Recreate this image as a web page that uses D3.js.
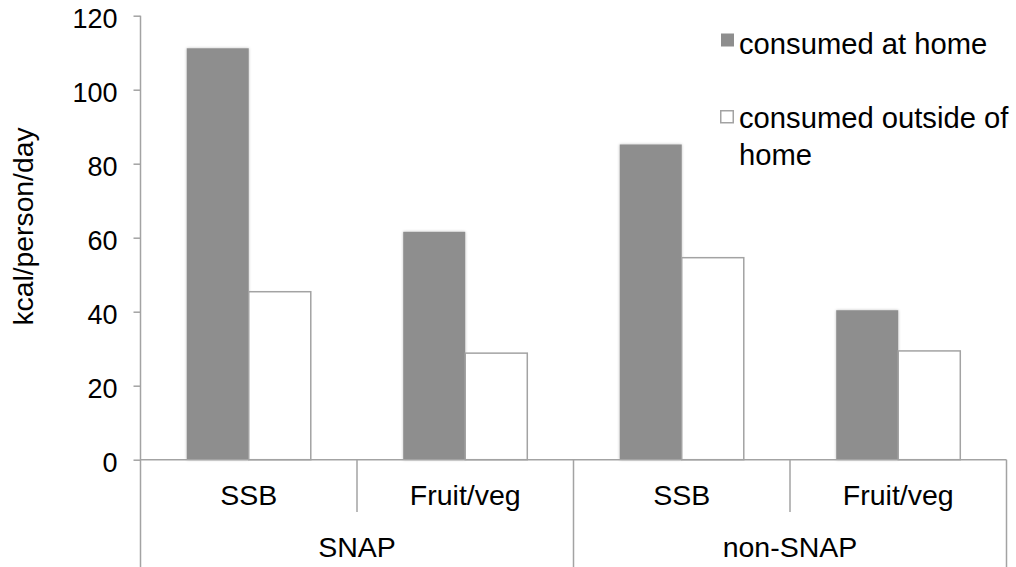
<!DOCTYPE html>
<html>
<head>
<meta charset="utf-8">
<script src="https://cdn.jsdelivr.net/npm/d3@7"></script>
<style>
  html, body { margin: 0; padding: 0; background: #fff; }
  svg text { font-family: "Liberation Sans", Arial, Helvetica, sans-serif; fill: #000; }
</style>
</head>
<body>
<svg id="chart" width="1016" height="567"></svg>
<script>
// Energy from sugar-sweetened beverages and fruit/vegetables, by SNAP participation
const groups = ["SNAP", "non-SNAP"];
const foods = ["SSB", "Fruit/veg"];
const categories = ["SNAP|SSB", "SNAP|Fruit/veg", "non-SNAP|SSB", "non-SNAP|Fruit/veg"];
const seriesNames = ["consumed at home", "consumed outside of home"];
const atHome = [111.2, 61.6, 85.2, 40.4];
const outsideHome = [45.4, 28.8, 54.6, 29.4];
const yTicks = [0, 20, 40, 60, 80, 100, 120];
const yLabel = "kcal/person/day";

const svg = d3.select("#chart");
const axisColor = "#a3a3a3";
const darkFill = "#8e8e8e";
const tickFont = 27;
const catFont = 28.5;
const titleFont = 28.3;
const legendFont = 29.2;

const plotLeft = 140.5, plotRight = 1006.5, plotTop = 15.7, plotBottom = 459.7;

const y = d3.scaleLinear().domain([0, 120]).range([plotBottom, plotTop]);
const x0 = d3.scaleBand().domain(categories).range([plotLeft, plotRight]).padding(0);
const x1 = d3.scaleBand().domain(seriesNames).range([0, x0.bandwidth()])
  .paddingInner(0).paddingOuter(0.745);

// soft shadow behind the filled bars
const defs = svg.append("defs");
const f = defs.append("filter").attr("id", "soft").attr("x", "-20%").attr("y", "-20%")
  .attr("width", "140%").attr("height", "140%");
f.append("feGaussianBlur").attr("in", "SourceAlpha").attr("stdDeviation", 1.6).attr("result", "b");
f.append("feComponentTransfer").attr("in", "b").attr("result", "bb")
  .append("feFuncA").attr("type", "linear").attr("slope", 0.25);
const m = f.append("feMerge");
m.append("feMergeNode").attr("in", "bb");
m.append("feMergeNode").attr("in", "SourceGraphic");

// bars
const rows = categories.map((c, i) => ({ cat: c, home: atHome[i], out: outsideHome[i] }));
const g = svg.append("g");
rows.forEach(r => {
  g.append("rect")
    .attr("x", x0(r.cat) + x1(seriesNames[0]))
    .attr("y", y(r.home))
    .attr("width", x1.bandwidth())
    .attr("height", y(0) - y(r.home))
    .attr("fill", darkFill)
    .attr("filter", "url(#soft)");
  g.append("rect")
    .attr("x", x0(r.cat) + x1(seriesNames[1]))
    .attr("y", y(r.out))
    .attr("width", x1.bandwidth())
    .attr("height", y(0) - y(r.out))
    .attr("fill", "#fff")
    .attr("stroke", axisColor)
    .attr("stroke-width", 1.5);
});

// y axis
const yAxis = d3.axisLeft(y).tickValues(yTicks).tickSize(7).tickPadding(16);
const ya = svg.append("g").attr("transform", `translate(${plotLeft},0)`).call(yAxis);
ya.select(".domain").remove();
ya.selectAll(".tick line").attr("stroke", axisColor).attr("stroke-width", 1.5);
ya.selectAll(".tick text").attr("font-size", tickFont).attr("dy", "0.42em")
  .style("font-family", '"Liberation Sans", Arial, sans-serif').attr("fill", "#000");

// vertical axis line running down through the category label area
svg.append("line").attr("x1", plotLeft).attr("x2", plotLeft).attr("y1", plotTop).attr("y2", 567)
  .attr("stroke", axisColor).attr("stroke-width", 1.5);

// x axis baseline
svg.append("line").attr("x1", plotLeft).attr("x2", plotRight).attr("y1", y(0)).attr("y2", y(0))
  .attr("stroke", axisColor).attr("stroke-width", 1.5);

// category dividers: short between foods, long between groups
categories.forEach((c, i) => {
  if (i === 0) return;
  const xx = x0(c);
  const long = c.split("|")[0] !== categories[i - 1].split("|")[0];
  svg.append("line").attr("x1", xx).attr("x2", xx).attr("y1", y(0))
    .attr("y2", long ? 567 : 512).attr("stroke", axisColor).attr("stroke-width", 1.5);
});
svg.append("line").attr("x1", plotRight).attr("x2", plotRight).attr("y1", y(0)).attr("y2", 567)
  .attr("stroke", axisColor).attr("stroke-width", 1.5);

// food labels
categories.forEach(c => {
  svg.append("text")
    .attr("x", x0(c) + x0.bandwidth() / 2)
    .attr("y", 505)
    .attr("text-anchor", "middle")
    .attr("font-size", catFont)
    .text(c.split("|")[1]);
});

// group labels
groups.forEach(gn => {
  const cats = categories.filter(c => c.split("|")[0] === gn);
  const xs = x0(cats[0]);
  const xe = x0(cats[cats.length - 1]) + x0.bandwidth();
  svg.append("text")
    .attr("x", (xs + xe) / 2)
    .attr("y", 557)
    .attr("text-anchor", "middle")
    .attr("font-size", catFont)
    .text(gn);
});

// y axis title
svg.append("text")
  .attr("transform", "translate(33,226.5) rotate(-90)")
  .attr("text-anchor", "middle")
  .attr("font-size", titleFont)
  .text(yLabel);

// legend
const lg = svg.append("g");
lg.append("rect").attr("x", 721).attr("y", 33.5).attr("width", 13).attr("height", 13)
  .attr("fill", darkFill);
lg.append("text").attr("x", 739).attr("y", 54).attr("font-size", legendFont).text(seriesNames[0]);
lg.append("rect").attr("x", 720.75).attr("y", 110.75).attr("width", 12.5).attr("height", 12)
  .attr("fill", "#fff").attr("stroke", axisColor).attr("stroke-width", 1.5);
const t2 = lg.append("text").attr("x", 739).attr("y", 128).attr("font-size", legendFont);
t2.append("tspan").attr("x", 739).text("consumed outside of");
t2.append("tspan").attr("x", 739).attr("y", 165).text("home");
</script>
</body>
</html>
